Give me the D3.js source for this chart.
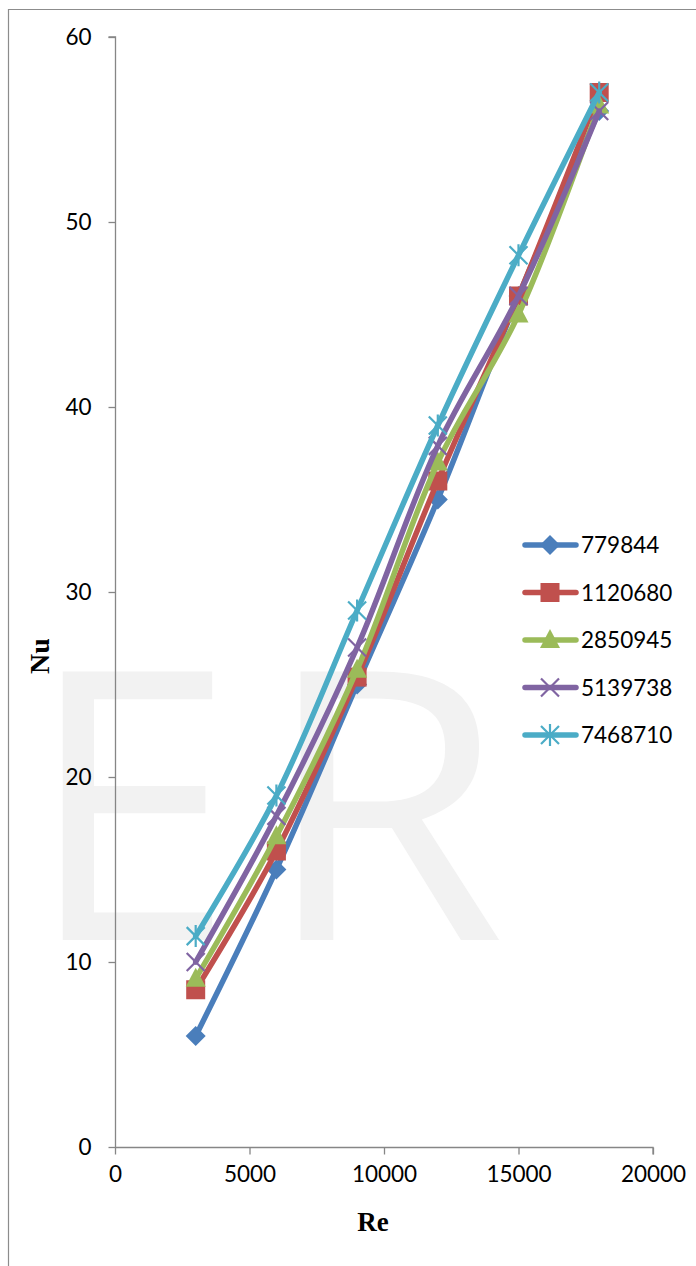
<!DOCTYPE html>
<html>
<head>
<meta charset="utf-8">
<script src="https://cdn.jsdelivr.net/npm/d3@7"></script>
<style>
  html, body { margin: 0; padding: 0; background: #fff; }
  svg { display: block; }
</style>
</head>
<body>
<svg id="chart" width="696" height="1266"></svg>
<script>
// ---- data ----
const reValues = [3000, 6000, 9000, 12000, 15000, 18000];
const seriesNames = ["779844", "1120680", "2850945", "5139738", "7468710"];
const nu779844  = [6.0, 15.0, 25.0, 35.0, 46.0, 56.0];
const nu1120680 = [8.5, 16.0, 25.4, 36.0, 46.0, 57.0];
const nu2850945 = [9.1, 16.8, 25.8, 37.0, 45.0, 56.3];
const nu5139738 = [10.0, 17.9, 27.0, 37.9, 46.0, 56.0];
const nu7468710 = [11.4, 19.0, 29.0, 39.0, 48.2, 57.0];
const xTicks = [0, 5000, 10000, 15000, 20000];
const yTicks = [0, 10, 20, 30, 40, 50, 60];
const seriesColors = ["#4A7EBB", "#C0504D", "#9BBB59", "#8064A2", "#4BACC6"];
const markerKinds = ["diamond", "square", "triangle", "x", "star"];
const xLabel = "Re";
const yLabel = "Nu";
const watermark = ["E", "R"];

const seriesValues = [nu779844, nu1120680, nu2850945, nu5139738, nu7468710];
const series = seriesNames.map((name, i) => ({
  name, color: seriesColors[i], marker: markerKinds[i],
  points: reValues.map((re, j) => ({ re, nu: seriesValues[i][j] }))
}));

const svg = d3.select("#chart");
const tickFont = "Lato, 'Open Sans', sans-serif";

// outer frame
svg.append("path")
  .attr("d", "M8.5,1266 L8.5,9.5 L696,9.5")
  .attr("fill", "none").attr("stroke", "#8c8c8c").attr("stroke-width", 1.2);

// watermark
const wm = svg.append("g").attr("fill", "#f2f2f2")
  .style("font-family", "'Open Sans', sans-serif").style("font-size", "376px");
wm.append("text").attr("x", 26).attr("y", 940).text(watermark[0]);
wm.append("text").attr("transform", "translate(262,940) scale(1.05,1)").text(watermark[1]);

// scales
const x = d3.scaleLinear().domain([0, 20000]).range([115, 653]);
const y = d3.scaleLinear().domain([0, 60]).range([1147, 37]);

// axes
const axisColor = "#868686";
const yAxis = svg.append("g").attr("transform", "translate(115.5,0)")
  .call(d3.axisLeft(y).tickValues(yTicks).tickSize(7).tickPadding(17).tickFormat(d3.format("d")));
const xAxis = svg.append("g").attr("transform", "translate(0,1147.5)")
  .call(d3.axisBottom(x).tickValues(xTicks).tickSize(7).tickPadding(12).tickFormat(d3.format("d")));
[xAxis, yAxis].forEach(a => {
  a.select(".domain").attr("stroke", axisColor).attr("stroke-width", 1.3);
  a.selectAll(".tick line").attr("stroke", axisColor).attr("stroke-width", 1.3);
  a.selectAll(".tick text").attr("fill", "#000")
    .style("font-family", tickFont).style("font-size", "22.5px");
});
yAxis.select(".domain").attr("d", `M-7,${y(60)}H0V${y(0)}`);
xAxis.select(".domain").attr("d", `M${x(0)},0H${x(20000)}V7`);

// axis titles
svg.append("text").attr("x", 373).attr("y", 1231).attr("text-anchor", "middle")
  .style("font-family", "'Liberation Serif', 'Times New Roman', serif")
  .style("font-weight", "bold").style("font-size", "27px").text(xLabel);
svg.append("text").attr("transform", "translate(49,656) rotate(-90)")
  .attr("text-anchor", "middle")
  .style("font-family", "'Liberation Serif', 'Times New Roman', serif")
  .style("font-weight", "bold").style("font-size", "28px").text(yLabel);

// markers
function drawMarker(g, kind, cx, cy, color) {
  if (kind === "diamond") {
    g.append("path").attr("d", `M${cx},${cy-10}L${cx+10},${cy}L${cx},${cy+10}L${cx-10},${cy}Z`)
      .attr("fill", color);
  } else if (kind === "square") {
    g.append("rect").attr("x", cx-9.5).attr("y", cy-9.5).attr("width", 19).attr("height", 19)
      .attr("fill", color);
  } else if (kind === "triangle") {
    g.append("path").attr("d", `M${cx},${cy-11}L${cx+10},${cy+8}L${cx-10},${cy+8}Z`)
      .attr("fill", color);
  } else if (kind === "x") {
    g.append("path").attr("d", `M${cx-9},${cy-9}L${cx+9},${cy+9}M${cx+9},${cy-9}L${cx-9},${cy+9}`)
      .attr("stroke", color).attr("stroke-width", 2.2).attr("fill", "none");
  } else if (kind === "star") {
    g.append("path").attr("d", `M${cx-9},${cy-9}L${cx+9},${cy+9}M${cx+9},${cy-9}L${cx-9},${cy+9}M${cx},${cy-11}L${cx},${cy+11}`)
      .attr("stroke", color).attr("stroke-width", 2.2).attr("fill", "none");
  }
}

// lines
const line = d3.line().x(d => x(d.re)).y(d => y(d.nu)).curve(d3.curveCatmullRom.alpha(0.5));
series.forEach(s => {
  const g = svg.append("g");
  g.append("path").datum(s.points).attr("d", line)
    .attr("fill", "none").attr("stroke", s.color).attr("stroke-width", 5.5)
    .attr("stroke-linecap", "round").attr("stroke-linejoin", "round");
  s.points.forEach(p => drawMarker(g, s.marker, x(p.re), y(p.nu), s.color));
});

// legend
const legend = svg.append("g");
series.forEach((s, i) => {
  const ly = 545 + i * 47.5;
  const g = legend.append("g");
  g.append("line").attr("x1", 525).attr("x2", 576).attr("y1", ly).attr("y2", ly)
    .attr("stroke", s.color).attr("stroke-width", 5.5).attr("stroke-linecap", "round");
  drawMarker(g, s.marker, 550, ly, s.color);
  g.append("text").attr("x", 581).attr("y", ly).attr("dy", "0.36em")
    .style("font-family", tickFont).style("font-size", "22.5px").attr("fill", "#000").text(s.name);
});
</script>
</body>
</html>
